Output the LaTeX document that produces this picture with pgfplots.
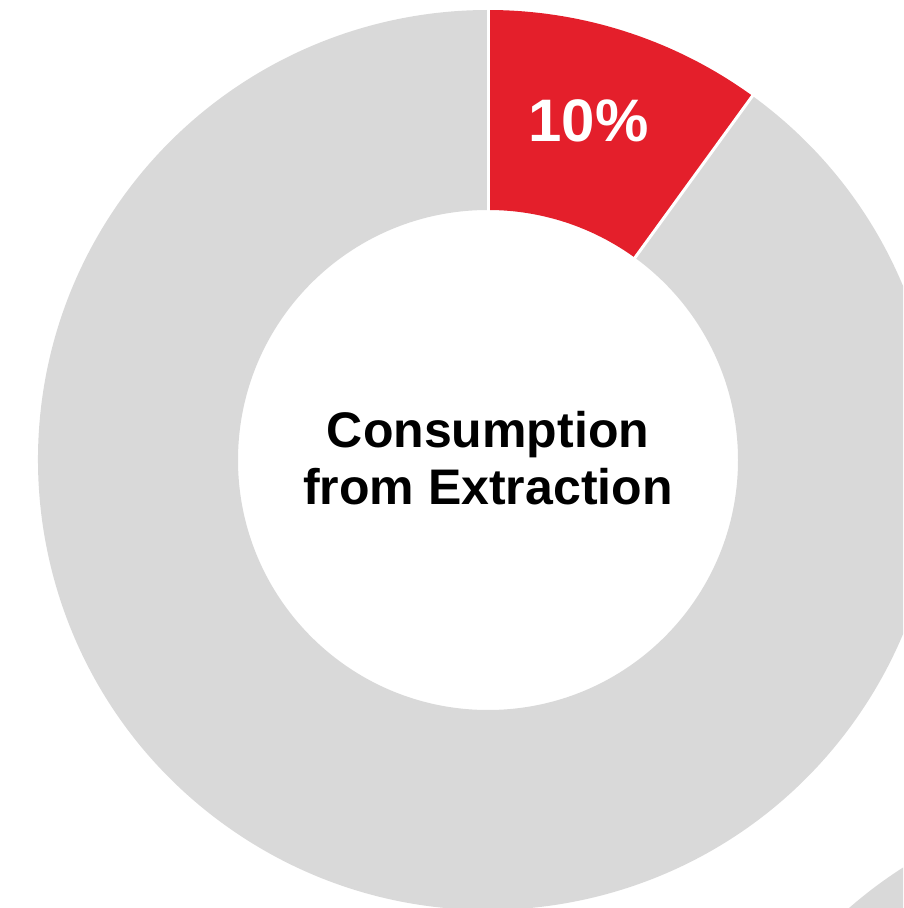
\documentclass[border=0pt]{standalone}
\usepackage{pgfplots}
\pgfplotsset{compat=1.18}
\usepackage{pgfplotstable}
\usepackage{fontspec}
\setmainfont{Liberation Sans}
\definecolor{slicered}{HTML}{E41F2B}
\definecolor{slicegray}{HTML}{D9D9D9}
\pgfplotstableread{
label value
Extraction 10
Other 90
}\donutdata
\begin{document}
\begin{tikzpicture}
\pgfplotstablegetelem{0}{value}\of\donutdata \let\vA\pgfplotsretval
\pgfplotstablegetelem{1}{value}\of\donutdata \let\vB\pgfplotsretval
\pgfmathsetmacro{\aS}{90}
\pgfmathsetmacro{\aM}{90-\vA/(\vA+\vB)*360}
\pgfmathsetmacro{\aE}{\aM-\vB/(\vA+\vB)*360}
\pgfmathsetmacro{\aL}{(\aS+\aM)/2+1.5}
\begin{axis}[
  x=1pt, y=1pt,
  xmin=-488, xmax=415, ymin=-448, ymax=460,
  hide axis, clip=true,
]
% neighbouring donut (partly visible at the lower right corner)
\fill[slicegray] (axis cs:657,-787) circle[radius=450];
% gray slice
\fill[slicegray] (axis cs:{450*cos(\aM)},{450*sin(\aM)}) arc[start angle=\aM, end angle=\aE, radius=450]
  -- (axis cs:{250*cos(\aE)},{250*sin(\aE)}) arc[start angle=\aE, end angle=\aM, radius=250] -- cycle;
% red slice
\fill[slicered] (axis cs:{450*cos(\aS)},{450*sin(\aS)}) arc[start angle=\aS, end angle=\aM, radius=450]
  -- (axis cs:{250*cos(\aM)},{250*sin(\aM)}) arc[start angle=\aM, end angle=\aS, radius=250] -- cycle;
% separators
\draw[white, line width=3pt] (axis cs:{248*cos(\aS)},{248*sin(\aS)}) -- (axis cs:{452*cos(\aS)},{452*sin(\aS)});
\draw[white, line width=3pt] (axis cs:{248*cos(\aM)},{248*sin(\aM)}) -- (axis cs:{452*cos(\aM)},{452*sin(\aM)});
% labels
\node[text=white, font=\fontsize{60}{72}\selectfont\bfseries] at (axis cs:{354*cos(\aL)},{354*sin(\aL)}) {\pgfmathprintnumber[fixed,precision=0,assume math mode=true]{\vA}\%};
\node[align=center, font=\fontsize{50}{57}\selectfont\bfseries] at (axis cs:0,2) {Consumption\\from Extraction};
\end{axis}
\pgfresetboundingbox
\path (current axis.south west) rectangle (current axis.north east);
\end{tikzpicture}
\end{document}
